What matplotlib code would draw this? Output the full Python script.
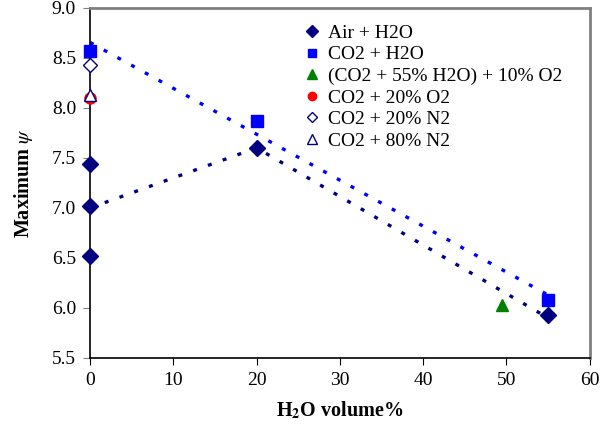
import matplotlib.pyplot as plt
import numpy as np

plt.rcParams['font.family'] = ['Liberation Serif', 'DejaVu Serif']
plt.rcParams['mathtext.fontset'] = 'stix'

# data
air_x = [0, 0, 0, 20, 55]
air_y = [6.52, 7.02, 7.44, 7.60, 5.93]
air_line_x = [0, 20, 55]
air_line_y = [7.00, 7.60, 5.90]

co2_x = [0, 20, 55]
co2_y = [8.57, 7.87, 6.08]

mix_x = [49.5]
mix_y = [6.03]
o2_x = [0]
o2_y = [8.10]
n2_20_x = [0]
n2_20_y = [8.43]
n2_80_x = [0]
n2_80_y = [8.13]

fig = plt.figure(figsize=(6, 4.36), dpi=100)
ax = fig.add_axes([0.15, 0.179, 0.833, 0.803])

# dotted trend lines
ax.plot(air_line_x, air_line_y, ls=(0, (1.2, 3.5)), color='#000080', lw=2.4, zorder=1)
fit = np.polyfit(co2_x, co2_y, 1)
xx = np.array([0, 55])
ax.plot(xx, np.polyval(fit, xx), ls=(0, (1.2, 3.5)), color='#0000ff', lw=2.4, zorder=1)

ax.plot(air_x, air_y, 'D', color='#000080', ms=8, ls='none', label='Air + H2O', zorder=3, clip_on=False)
ax.plot(co2_x, co2_y, 's', color='#0000ff', ms=8, ls='none', label='CO2 + H2O', zorder=3, clip_on=False)
ax.plot(mix_x, mix_y, '^', color='#008000', ms=9, ls='none', label='(CO2 + 55% H2O) + 10% O2', zorder=3)
ax.plot(o2_x, o2_y, 'o', color='#ff0000', ms=8, ls='none', label='CO2 + 20% O2', zorder=3, clip_on=False)
ax.plot(n2_20_x, n2_20_y, 'D', mfc='white', mec='#000080', ms=7, ls='none', label='CO2 + 20% N2', zorder=4, clip_on=False)
ax.plot(n2_80_x, n2_80_y, '^', mfc='white', mec='#000080', ms=9, ls='none', label='CO2 + 80% N2', zorder=4, clip_on=False)

ax.set_xlim(0, 60)
ax.set_ylim(5.5, 9.0)
ax.set_xticks(range(0, 61, 10))
ax.set_yticks(np.arange(5.5, 9.01, 0.5))
ax.set_yticklabels(['%.1f' % v for v in np.arange(5.5, 9.01, 0.5)])
ax.tick_params(labelsize=14, direction='out', length=5, pad=5)
ax.tick_params(axis='y', colors='#808080', labelcolor='black')

for s in ['top', 'right']:
    ax.spines[s].set_color('#808080')
    ax.spines[s].set_linewidth(2)
ax.spines['left'].set_linewidth(1.2)
ax.spines['bottom'].set_linewidth(1.2)

ax.set_xlabel('H$_\\mathbf{2}$O volume%', fontsize=14.5, fontweight='bold', labelpad=8)
ax.set_ylabel('Maximum $\\psi$', fontsize=14.5, fontweight='bold', labelpad=12)

ax.legend(loc='upper left', bbox_to_anchor=(0.41, 0.975), frameon=False, fontsize=14,
          handletextpad=0.3, labelspacing=0.2, handlelength=1.0, borderaxespad=0,
          markerscale=0.75)

fig.savefig('out.png', dpi=100)
